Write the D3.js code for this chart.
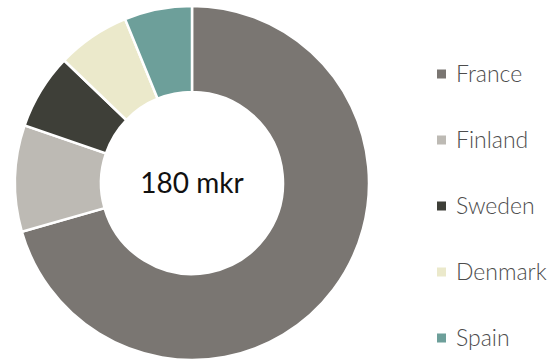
<!DOCTYPE html>
<html>
<head>
<meta charset="utf-8">
<script src="https://cdn.jsdelivr.net/npm/d3@7"></script>
<style>
  body{margin:0;background:#fff;}
  svg{display:block;font-family:Lato,"Open Sans",sans-serif;font-weight:300;}
</style>
</head>
<body>
<svg id="chart" width="560" height="361"></svg>
<script>
let countries=["France","Finland","Sweden","Denmark","Spain"];
let amounts=[127,17.5,12.4,12,11.1];
let colours=["#7a7672","#bdbab4","#3e3f38","#ebe9cb","#6d9f9a"];
let totalLabel="180 mkr";

const render=()=>{
  let svg=d3.select("#chart");
  let cx=192,cy=183,outer=177,inner=91;

  let pie=d3.pie().sort(null).value((d)=>d.v);
  let arc=d3.arc().innerRadius(inner).outerRadius(outer);
  let colour=d3.scaleOrdinal().domain(countries).range(colours);
  let rows=countries.map((c,i)=>({c:c,v:amounts[i]}));

  let g=svg.append("g").attr("transform",`translate(${cx},${cy})`);
  g.selectAll("path")
    .data(pie(rows))
    .enter()
      .append("path")
      .attr("d",arc)
      .attr("fill",(d)=>colour(d.data.c))
      .attr("stroke","#fff")
      .attr("stroke-width",2.5);

  g.append("text")
    .attr("text-anchor","middle")
    .attr("y",10)
    .style("font-size","28px")
    .style("font-weight","400")
    .style("fill","#111")
    .text(totalLabel);

  // legend down the right side
  let y=d3.scalePoint().domain(countries).range([74,338]);
  let item=svg.append("g").selectAll("g")
    .data(countries)
    .enter()
      .append("g")
      .attr("transform",(d)=>`translate(437,${y(d)})`);
  item.append("rect")
    .attr("x",0)
    .attr("y",-4.5)
    .attr("width",9)
    .attr("height",9)
    .attr("fill",(d)=>colour(d));
  item.append("text")
    .attr("x",19)
    .attr("y",8)
    .style("font-size","23px")
    .style("fill","#4d4d4d")
    .text((d)=>d);
}

window.onload=render;
</script>
</body>
</html>
